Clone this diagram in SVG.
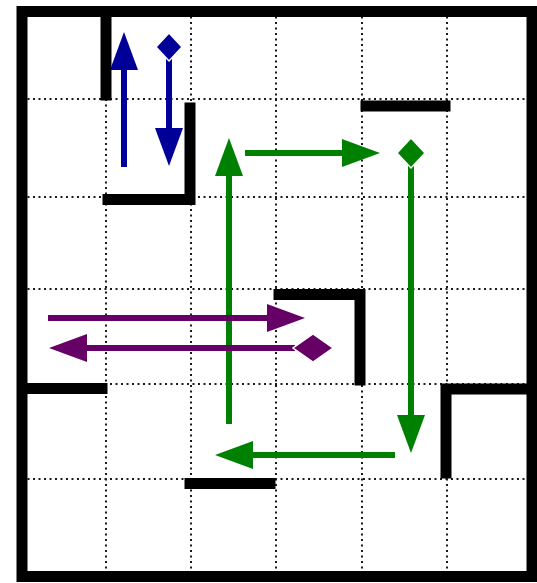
<svg xmlns="http://www.w3.org/2000/svg" width="537" height="583" viewBox="0 0 537 583">
<style>
.grid{stroke:#1a1a1a;stroke-width:2;stroke-dasharray:2 3.5;fill:none}
.wall{stroke:#000;stroke-width:11;fill:none;stroke-linecap:square}
.blue{stroke:#000099;stroke-width:6;fill:none}
.green{stroke:#008000;stroke-width:6;fill:none}
.purple{stroke:#660066;stroke-width:6;fill:none}
</style>
<defs>
<marker id="hb" markerUnits="userSpaceOnUse" markerWidth="38" markerHeight="28" refX="0" refY="14" orient="auto"><path d="M0,0 L38,14 L0,28 Z" fill="#000099"/></marker>
<marker id="hg" markerUnits="userSpaceOnUse" markerWidth="38" markerHeight="28" refX="0" refY="14" orient="auto"><path d="M0,0 L38,14 L0,28 Z" fill="#008000"/></marker>
<marker id="hp" markerUnits="userSpaceOnUse" markerWidth="38" markerHeight="28" refX="0" refY="14" orient="auto"><path d="M0,0 L38,14 L0,28 Z" fill="#660066"/></marker>
</defs>
<rect width="537" height="583" fill="#fff"/>
<g id="grid">
<line class="grid" x1="106" y1="11" x2="106" y2="576"/>
<line class="grid" x1="191" y1="11" x2="191" y2="576"/>
<line class="grid" x1="276" y1="11" x2="276" y2="576"/>
<line class="grid" x1="362" y1="11" x2="362" y2="576"/>
<line class="grid" x1="447" y1="11" x2="447" y2="576"/>
<line class="grid" x1="22" y1="99" x2="532" y2="99"/>
<line class="grid" x1="22" y1="197" x2="532" y2="197"/>
<line class="grid" x1="22" y1="289" x2="532" y2="289"/>
<line class="grid" x1="22" y1="384" x2="532" y2="384"/>
<line class="grid" x1="22" y1="479" x2="532" y2="479"/>
</g>
<g id="walls">
<rect x="22" y="11.5" width="510" height="565" fill="none" stroke="#000" stroke-width="11"/>
<path class="wall" d="M106,18 V95"/>
<path class="wall" d="M190,108 V199.5 H108"/>
<path class="wall" d="M366,106 H445"/>
<path class="wall" d="M279,294.5 H360 V380"/>
<path class="wall" d="M27,388.5 H102"/>
<path class="wall" d="M446,473 V389 H527"/>
<path class="wall" d="M190,483.5 H270"/>
</g>
<g id="connectors">
<g id="blue-path">
<line class="blue" x1="124" y1="167" x2="124" y2="70" marker-end="url(#hb)"/>
<line class="blue" x1="169" y1="58" x2="169" y2="128" marker-end="url(#hb)"/>
</g>
<g id="green-path">
<line class="green" x1="229" y1="424" x2="229" y2="176" marker-end="url(#hg)"/>
<line class="green" x1="245" y1="153" x2="342" y2="153" marker-end="url(#hg)"/>
<line class="green" x1="411" y1="165" x2="411" y2="415" marker-end="url(#hg)"/>
<line class="green" x1="395" y1="455" x2="253" y2="455" marker-end="url(#hg)"/>
</g>
<g id="purple-path">
<line class="purple" x1="48" y1="318" x2="267" y2="318" marker-end="url(#hp)"/>
<line class="purple" x1="295" y1="348" x2="87" y2="348" marker-end="url(#hp)"/>
</g>
</g>
<g id="start-blue"><path d="M169,33 L182,47 L169,61 L156,47 Z" fill="#000099" stroke="#fff" stroke-width="1.5"/></g>
<g id="start-green"><path d="M411,138 L425,153 L411,168 L397,153 Z" fill="#008000" stroke="#fff" stroke-width="1.5"/></g>
<g id="start-purple"><path d="M313,334 L333,348 L313,362 L293,348 Z" fill="#660066" stroke="#fff" stroke-width="1.5"/></g>
</svg>
